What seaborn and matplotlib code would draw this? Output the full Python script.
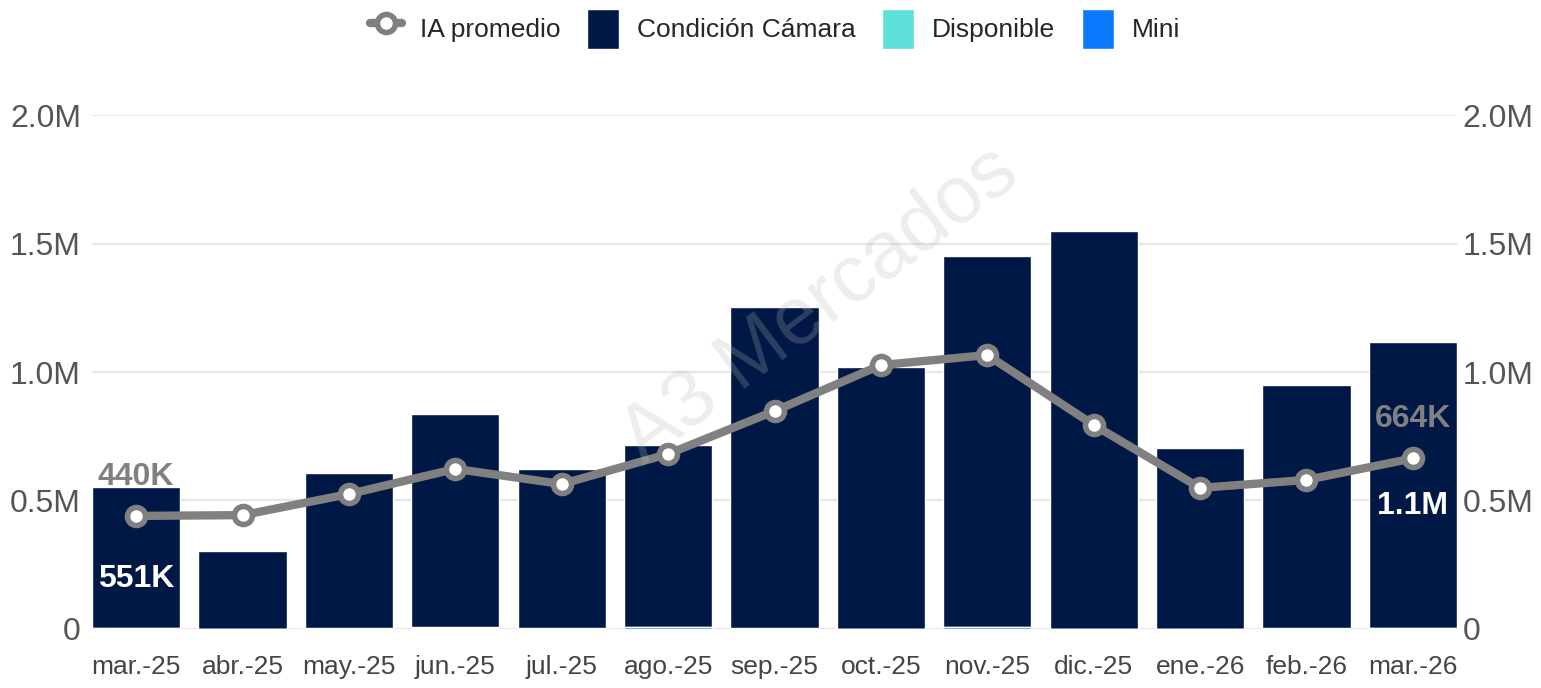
import numpy as np
import pandas as pd
import matplotlib
matplotlib.use("Agg")
import matplotlib.pyplot as plt
import seaborn as sns
from matplotlib.lines import Line2D
from matplotlib.patches import Patch

meses = ["mar.-25", "abr.-25", "may.-25", "jun.-25", "jul.-25", "ago.-25", "sep.-25",
         "oct.-25", "nov.-25", "dic.-25", "ene.-26", "feb.-26", "mar.-26"]
condicion_camara = [551000, 305000, 604000, 830000, 622000, 710000, 1252000,
                    1020000, 1445000, 1550000, 705000, 946000, 1112000]
disponible = [1000, 0, 2000, 1000, 1000, 1000, 1000, 1000, 1000, 0, 0, 1000, 1000]
mini = [2000, 0, 1000, 5000, 1000, 6000, 1000, 0, 7000, 0, 1000, 1000, 2000]
ia_promedio = [440000, 443000, 525000, 623000, 564000, 681000, 848000,
               1027000, 1066000, 794000, 549000, 580000, 664000]

C_NAVY = "#001845"
C_DISP = "#5ce0d8"
C_MINI = "#0a7aff"
C_GRAY = "#808080"

df = pd.DataFrame({"mes": meses, "camara": condicion_camara,
                   "disp": disponible, "mini": mini, "ia": ia_promedio})
df["total"] = df["camara"] + df["disp"] + df["mini"]
df["mini_disp"] = df["disp"] + df["mini"]

sns.set_theme(style="white")
plt.rcParams["font.family"] = ["Liberation Sans", "DejaVu Sans"]

fig = plt.figure(figsize=(15.41, 6.88), dpi=100)
ax = fig.add_axes([0.0597, 0.0858, 0.8858, 0.747])

# barras apiladas: primero el total, luego las capas pequeñas encima
sns.barplot(data=df, x="mes", y="total", color=C_NAVY, width=0.83, saturation=1,
            ax=ax, zorder=2)
sns.barplot(data=df, x="mes", y="mini_disp", color=C_DISP, width=0.83, saturation=1,
            ax=ax, zorder=2)
sns.barplot(data=df, x="mes", y="mini", color=C_MINI, width=0.83, saturation=1,
            ax=ax, zorder=2)

sns.pointplot(data=df, x="mes", y="ia", color=C_GRAY, ax=ax, linewidth=6,
              markers="o", markersize=13, markerfacecolor="white",
              markeredgecolor=C_GRAY, markeredgewidth=4, zorder=5)

ax.set_xlim(-0.415, len(meses) - 1 + 0.415)
ax.set_ylim(0, 2000000)
ticks = [0, 500000, 1000000, 1500000, 2000000]
tick_lbls = ["0", "0.5M", "1.0M", "1.5M", "2.0M"]
ax.set_yticks(ticks)
ax.set_yticklabels(tick_lbls)
ax.grid(axis="y", color="#e6e6e6", linewidth=1.5, zorder=0)
ax.set_axisbelow(True)
for s in ax.spines.values():
    s.set_visible(False)
ax.set_xlabel("")
ax.set_ylabel("")
ax.tick_params(axis="y", labelsize=23, labelcolor="#555555", length=0, pad=8)
ax.tick_params(axis="x", labelsize=19, labelcolor="#444444", length=0, pad=19)

ax2 = ax.twinx()
ax2.set_ylim(ax.get_ylim())
ax2.set_yticks(ticks)
ax2.set_yticklabels(tick_lbls)
ax2.tick_params(axis="y", labelsize=23, labelcolor="#555555", length=0, pad=4)
for s in ax2.spines.values():
    s.set_visible(False)
ax2.grid(False)

# etiquetas de datos
for i in [0, len(meses) - 1]:
    ax.annotate(f"{ia_promedio[i] / 1000:.0f}K", (i, ia_promedio[i]), xytext=(0, 28),
                textcoords="offset points", ha="center", va="center",
                fontsize=23, fontweight="bold", color=C_GRAY, zorder=6)
ax.text(0, condicion_camara[0] * 0.35, f"{condicion_camara[0] / 1000:.0f}K",
        ha="center", va="center", fontsize=23, fontweight="bold", color="white", zorder=6)
ax.text(len(meses) - 1, condicion_camara[-1] * 0.43, f"{condicion_camara[-1] / 1e6:.1f}M",
        ha="center", va="center", fontsize=23, fontweight="bold", color="white", zorder=6)

# marca de agua
fig.text(0.532, 0.555, "A3 Mercados", rotation=37, fontsize=58, color="#b8b8b8",
         alpha=0.25, ha="center", va="center", zorder=10)

handles = [
    Line2D([0], [0], color=C_GRAY, linewidth=6, marker="o", markersize=13,
           markerfacecolor="white", markeredgecolor=C_GRAY, markeredgewidth=4),
    Patch(facecolor=C_NAVY),
    Patch(facecolor=C_DISP),
    Patch(facecolor=C_MINI),
]
labels = ["IA promedio", "Condición Cámara", "Disponible", "Mini"]
fig.legend(handles, labels, loc="center", bbox_to_anchor=(0.503, 0.958), ncol=4,
           frameon=False, fontsize=19, handlelength=1.2, handleheight=2.0,
           handletextpad=0.7, columnspacing=1.0)

fig.savefig("out.png", dpi=100)
